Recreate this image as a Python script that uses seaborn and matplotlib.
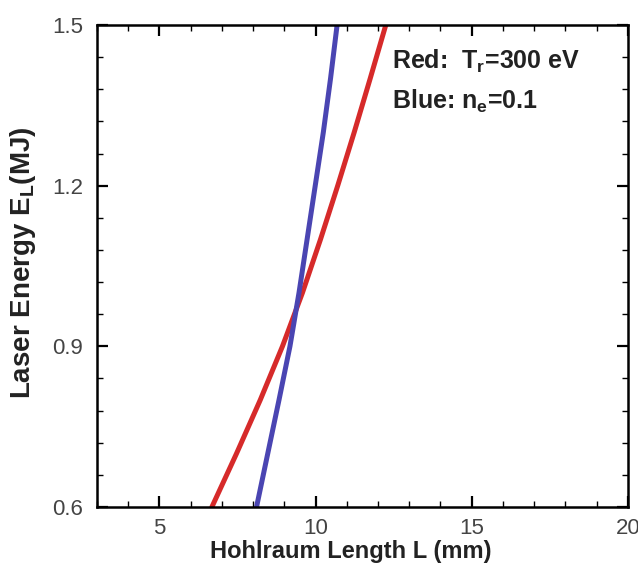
import matplotlib
matplotlib.use("Agg")
import matplotlib.pyplot as plt
from matplotlib.ticker import AutoMinorLocator, FormatStrFormatter
import seaborn as sns
import pandas as pd

# -------------------- Data --------------------

energy_mj = [0.6, 0.7, 0.8, 0.9, 1.0, 1.1, 1.2, 1.3, 1.4, 1.5]

# red curve: fixed radiation temperature Tr = 300 eV
red_length_mm = [6.68, 7.47, 8.23, 8.94, 9.58, 10.16, 10.71, 11.24, 11.75, 12.25]

# blue curve: fixed density ne = 0.1
blue_length_mm = [8.11, 8.47, 8.83, 9.18, 9.47, 9.73, 9.99, 10.25, 10.48, 10.69]

x_ticks = [5, 10, 15, 20]
y_ticks = [0.6, 0.9, 1.2, 1.5]

RED = "#d62a2a"
BLUE = "#4a45b2"


# -------------------- Plot --------------------

sns.set_style("ticks")
plt.rcParams["font.family"] = ["Liberation Sans", "DejaVu Sans"]
plt.rcParams["mathtext.fontset"] = "custom"
plt.rcParams["mathtext.rm"] = "Liberation Sans:bold"
plt.rcParams["mathtext.default"] = "rm"

df = pd.concat([
    pd.DataFrame({"L": red_length_mm, "E": energy_mj, "case": "red"}),
    pd.DataFrame({"L": blue_length_mm, "E": energy_mj, "case": "blue"}),
])

fig = plt.figure(figsize=(6.38, 5.72), dpi=100)
ax = fig.add_axes([0.152, 0.1136, 0.832, 0.8427])

sns.lineplot(
    data=df,
    x="L",
    y="E",
    hue="case",
    palette={"red": RED, "blue": BLUE},
    sort=False,
    estimator=None,
    linewidth=3.6,
    legend=False,
    ax=ax,
)

ax.set_xlim(3, 20)
ax.set_ylim(0.6, 1.5)
ax.set_xticks(x_ticks)
ax.set_yticks(y_ticks)
ax.yaxis.set_major_formatter(FormatStrFormatter("%.1f"))
ax.xaxis.set_minor_locator(AutoMinorLocator(5))
ax.yaxis.set_minor_locator(AutoMinorLocator(5))

ax.tick_params(which="both", direction="in", top=True, right=True,
               colors="black", labelcolor="#444444", labelsize=16)
ax.tick_params(axis="y", pad=10)
ax.tick_params(axis="x", pad=8)
ax.tick_params(which="major", length=8, width=1.6)
ax.tick_params(which="minor", length=4, width=1.0)

for side in ["left", "right", "top", "bottom"]:
    ax.spines[side].set_visible(True)
    ax.spines[side].set_linewidth(1.8)
    ax.spines[side].set_color("black")

ax.set_xlabel("Hohlraum Length L (mm)", fontsize=17, fontweight="bold",
              color="#222222")
ax.set_ylabel(r"Laser Energy E$_\mathrm{L}$(MJ)", fontsize=20, fontweight="bold",
              color="#222222")
ax.xaxis.set_label_coords(0.478, -0.068)
ax.yaxis.set_label_coords(-0.112, 0.506)

ax.text(0.555, 0.925, r"Red:  T$_\mathrm{r}$=300 eV", transform=ax.transAxes,
        fontsize=18, fontweight="bold", color="#222222", va="center")
ax.text(0.555, 0.842, r"Blue: n$_\mathrm{e}$=0.1", transform=ax.transAxes,
        fontsize=18, fontweight="bold", color="#222222", va="center")

fig.savefig("out.png", dpi=100)
